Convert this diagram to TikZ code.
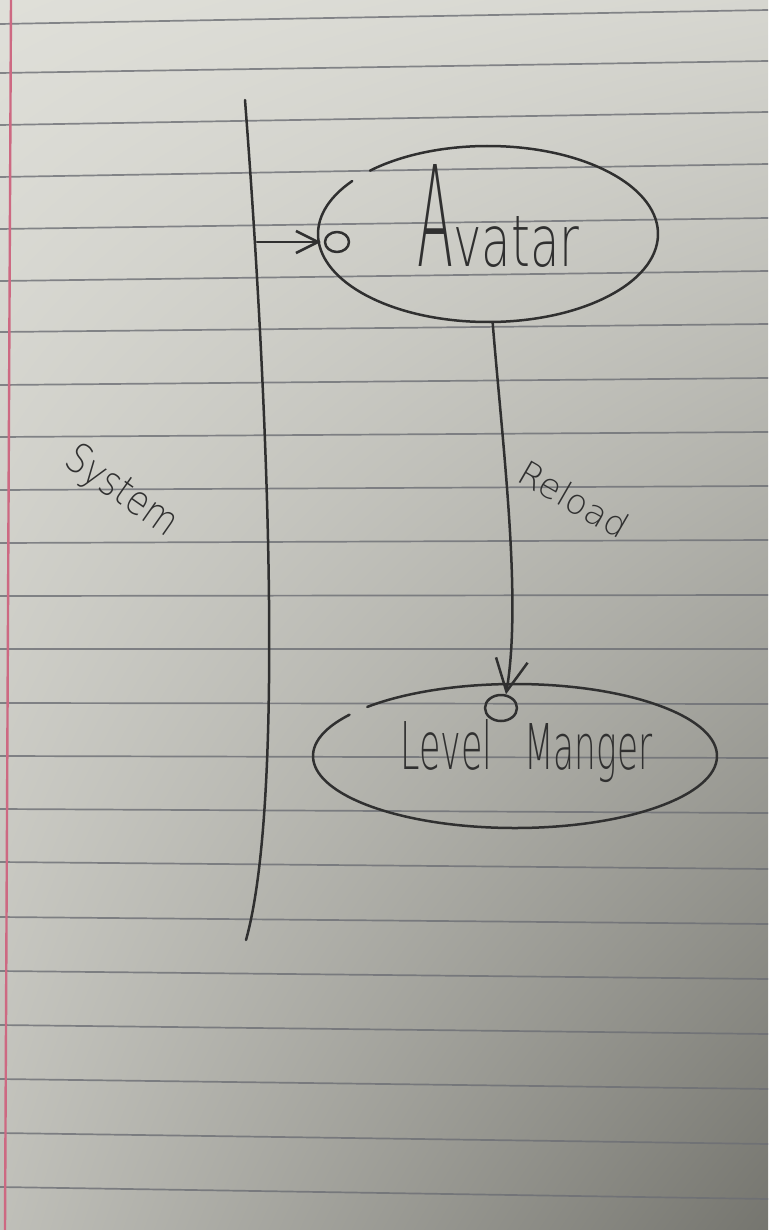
\documentclass[tikz,border=0pt]{standalone}
\usepackage{fontspec}
\usepackage{graphicx}
\usetikzlibrary{arrows.meta,shapes.geometric}
% thin face for the pencilled lettering
\IfFontExistsTF{DejaVu Sans ExtraLight}
  {\newfontfamily\hand{DejaVu Sans ExtraLight}}
  {\newfontfamily\hand{DejaVu Sans}}

% paper tone: bilinear blend between the four corners (lit top left, shaded bottom right)
\pgfdeclarefunctionalshading{paper}{\pgfpoint{0bp}{0bp}}{\pgfpoint{100bp}{100bp}}{}{
  25 sub 50 div exch 25 sub 50 div exch
  1 index dup
  -0.035 mul 0.875 add
  exch -0.29 mul 0.75 add
  exch 1 index sub
  3 -1 roll mul add
  exch pop
  dup dup 0.025 sub
}

\definecolor{rulegray}{RGB}{108,110,116}
\definecolor{marginred}{RGB}{205,105,130}
\definecolor{pencil}{RGB}{48,48,48}

\begin{document}
\begin{tikzpicture}[x=0.5pt,y=-0.5pt,
  ink/.style={draw=pencil, line width=1.25pt, line cap=round, line join=round},
  ruling/.style={draw=rulegray, line width=0.85pt, opacity=0.8},
  usecase/.style={ellipse, inner sep=0pt},
  port/.style={ellipse, ink, inner sep=0pt},
  label/.style={inner sep=0pt, text=pencil, font=\hand},
  smallbarb/.style={-{Straight Barb[length=11pt,width=11pt]}},
  bigbarb/.style={-{Straight Barb[length=16pt,width=16pt]}}
]
\useasboundingbox (0,0) rectangle (768,1230);

% sheet of ruled paper
\shade[shading=paper] (0,0) rectangle (768,1230);
\foreach \yl/\yr in {24/10,73/61,125/112,177/164,229/218,281/271,332/324,385/378,
  437/432,490/486,543/540,596/595,649/649,703/704,756/758,809/813,862/869,
  917/924,971/979,1025/1034,1079/1089,1133/1144,1187/1199}
  \draw[ruling] (0,\yl) -- (768,\yr);
\draw[draw=marginred, line width=1.2pt] (11,0) -- (5,1230);

% system boundary
\draw[ink] (245,100) .. controls (268,400) and (285,800) .. (246,940);
\coordinate (sysport) at (257,242);
\node[label, rotate=-35] (systemlabel) at (121,492) {\resizebox*{64pt}{19pt}{System}};

% use cases
\node[usecase, minimum width=170pt, minimum height=88pt] (avatar) at (488,234) {};
\draw[ink] ([shift={(134:85pt and 44pt)}]avatar.center)
  arc[start angle=134, end angle=-217, x radius=85pt, y radius=44pt];
\node[label, anchor=base west] (avatarlabel) at (417,266)
  {\resizebox{18pt}{51pt}{A}\resizebox{63pt}{25pt}{vatar}};

\node[usecase, minimum width=202pt, minimum height=72pt] (levelmgr) at (515,756) {};
\draw[ink] ([shift={(137:101pt and 36pt)}]levelmgr.center)
  arc[start angle=137, end angle=-215, x radius=101pt, y radius=36pt];
\node[label, anchor=base west] (levellabel) at (400,769)
  {\resizebox{46pt}{25pt}{Level}\hspace{16pt}\resizebox{64pt}{23pt}{Manger}};

% interface circles
\node[port, minimum width=12pt, minimum height=10pt] (avport) at (337,242) {};
\node[port, minimum width=16pt, minimum height=13pt] (lmport) at (501,708) {};

% connectors
\draw[ink, smallbarb, shorten >=1.5pt] (sysport) -- (avport.west);
\draw[ink, bigbarb] (avatar.-87) .. controls (503,450) and (522,600) .. (lmport.70);
\node[label, rotate=-30] (reloadlabel) at (574,499) {\resizebox{60pt}{13pt}{Reload}};
\end{tikzpicture}
\end{document}
